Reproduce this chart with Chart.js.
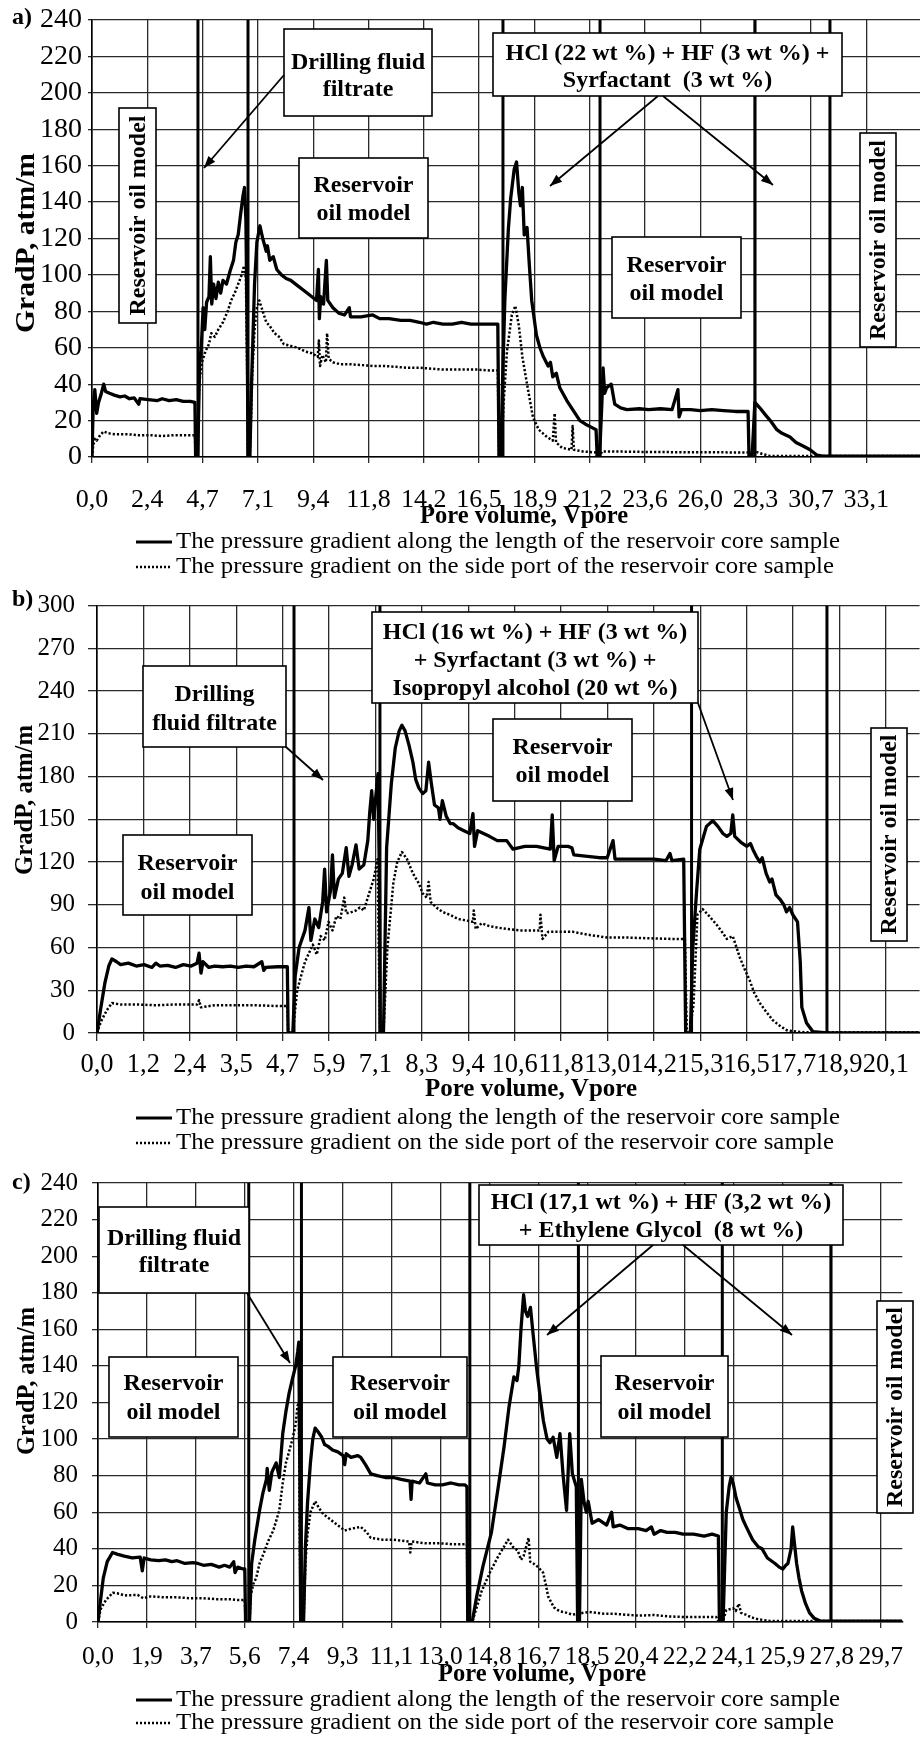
<!DOCTYPE html>
<html><head><meta charset="utf-8">
<script src="https://cdn.jsdelivr.net/npm/chart.js@4.4.1/dist/chart.umd.min.js"></script>
<style>
html,body{margin:0;padding:0;background:#fff;}
body{width:920px;height:1738px;position:relative;overflow:hidden;}
.panel{position:absolute;left:0;width:920px;}
canvas{display:block;}
</style></head><body>
<div class="panel" style="top:0;height:580px"><canvas id="cA" width="920" height="580"></canvas></div>
<div class="panel" style="top:580px;height:575px"><canvas id="cB" width="920" height="575"></canvas></div>
<div class="panel" style="top:1155px;height:583px"><canvas id="cC" width="920" height="583"></canvas></div>
<script>
// ---------------- DATA ----------------
const aLabels = ['0,0','2,4','4,7','7,1','9,4','11,8','14,2','16,5','18,9','21,2','23,6','26,0','28,3','30,7','33,1'];
const aYTicks = [0,20,40,60,80,100,120,140,160,180,200,220,240];
const aVlines = [4.53, 6.67, 17.57, 21.72, 28.34, 31.55];
const aSolid = [[0,0],[0.05,28],[0.12,37],[0.2,24],[0.28,30],[0.38,34],[0.5,40],[0.58,36],[0.75,35],[0.95,34],[1.2,33],[1.4,33.5],[1.6,32],[1.8,32.5],[2.0,29],[2.05,32],[2.4,31.5],[2.8,31],[3.0,32],[3.3,31],[3.6,31.5],[3.9,30.5],[4.2,30.5],[4.4,30],[4.43,0],[4.52,0],[4.6,50],[4.68,62],[4.75,82],[4.82,70],[4.9,85],[5.0,88],[5.06,110],[5.12,84],[5.2,95],[5.3,87],[5.4,96],[5.5,90],[5.6,97],[5.75,95],[5.9,102],[6.05,108],[6.15,118],[6.25,122],[6.35,133],[6.45,143],[6.52,148],[6.58,130],[6.64,60],[6.67,0],[6.75,0],[6.82,40],[6.95,95],[7.05,118],[7.18,127],[7.3,120],[7.45,113],[7.5,116],[7.6,108],[7.75,110],[7.9,103],[8.1,100],[8.3,98],[8.5,97],[8.8,94],[9.1,91],[9.4,88],[9.6,86],[9.68,103],[9.72,76],[9.78,88],[9.9,84],[10.02,108],[10.08,86],[10.3,82],[10.55,79],[10.8,78],[11.0,82],[11.05,77],[11.5,77],[12.0,78],[12.3,76],[12.7,76],[13.2,75],[13.6,75],[14.0,74],[14.3,73],[14.6,74],[15.0,73],[15.4,73],[15.8,74],[16.2,73],[16.6,73],[17.0,73],[17.35,73],[17.4,0],[17.5,0],[17.55,40],[17.65,86],[17.8,125],[17.9,142],[18.05,158],[18.15,162],[18.25,145],[18.32,138],[18.4,148],[18.48,122],[18.6,126],[18.7,105],[18.8,86],[19.0,67],[19.15,60],[19.3,55],[19.5,50],[19.6,52],[19.7,44],[19.85,46],[20.0,38],[20.3,31],[20.6,25],[20.86,20],[21.1,18],[21.4,16],[21.55,15],[21.6,0],[21.7,0],[21.8,30],[21.85,49],[21.92,35],[22.0,38],[22.2,40],[22.35,29],[22.6,27],[22.87,26],[23.4,26.5],[23.8,26],[24.3,26.5],[24.8,26],[25.05,37],[25.1,22],[25.2,26],[25.6,26],[26.0,25.5],[26.5,26],[27.0,25.5],[27.5,25],[28.05,25],[28.09,0],[28.22,0],[28.34,30],[28.55,27],[28.8,23],[29.0,20],[29.28,15],[29.5,13],[29.84,11],[30.1,8],[30.4,6],[30.7,4],[31.0,1],[31.25,0.5],[35.4,0.5]];
const aSide = [[0,0],[0.05,6],[0.12,10],[0.2,9],[0.35,12],[0.5,14],[0.7,13],[1.0,12.5],[1.5,12.5],[2.0,12],[2.5,12],[3.0,11.5],[3.5,12],[4.0,12],[4.4,12],[4.43,0],[4.52,0],[4.58,40],[4.7,52],[4.85,58],[5.0,62],[5.1,68],[5.25,66],[5.4,70],[5.6,74],[5.8,80],[5.95,86],[6.1,90],[6.25,95],[6.4,100],[6.5,105],[6.58,98],[6.64,40],[6.67,0],[6.75,0],[6.85,45],[6.95,70],[7.05,82],[7.15,86],[7.3,80],[7.45,74],[7.6,72],[7.8,68],[8.0,66],[8.2,62],[8.5,61],[8.8,60],[9.1,58],[9.4,57],[9.65,55],[9.7,64],[9.75,50],[9.85,56],[10.0,52],[10.05,68],[10.12,54],[10.3,52],[10.6,51],[11.0,51],[11.5,50.5],[12.0,50],[12.5,50],[13.0,49.5],[13.5,49],[14.0,49],[14.5,48.5],[15.0,48],[15.5,48],[16.0,48],[16.5,48],[17.0,47.5],[17.35,47.5],[17.4,0],[17.5,0],[17.6,30],[17.74,58],[17.95,78],[18.1,83],[18.25,72],[18.4,55],[18.6,40],[18.85,22],[19.1,15],[19.45,11],[19.7,9],[19.78,24],[19.84,8],[20.1,5],[20.5,4],[20.55,17],[20.6,4],[21.0,3],[21.55,2.5],[21.6,0],[21.7,0],[21.8,3],[22.5,3],[23.5,2.8],[24.5,2.7],[25.5,2.6],[26.5,2.6],[27.5,2.5],[28.05,2.5],[28.09,0],[28.22,0],[28.35,3],[28.7,1.5],[29.0,0.5],[35.4,0.5]];

const bLabels = ['0,0','1,2','2,4','3,5','4,7','5,9','7,1','8,3','9,4','10,6','11,8','13,0','14,2','15,3','16,5','17,7','18,9','20,1'];
const bYTicks = [0,30,60,90,120,150,180,210,240,270,300];
const bVlines = [5.02, 7.21, 15.15, 18.6];
const bSolid = [[0,0],[0.1,18],[0.2,35],[0.3,47],[0.38,52],[0.5,50],[0.6,48],[0.8,49],[1.0,47],[1.2,48],[1.4,46],[1.5,49],[1.6,47],[1.8,47.5],[2.0,46],[2.2,48],[2.4,47],[2.55,49],[2.6,56],[2.65,42],[2.7,50],[2.85,46],[3.0,47],[3.2,46.5],[3.4,47],[3.6,46],[3.8,47],[4.0,46.5],[4.2,50],[4.25,44],[4.3,46],[4.6,46.5],[4.85,46.5],[4.87,0],[4.99,0],[5.05,40],[5.15,60],[5.3,72],[5.4,88],[5.45,65],[5.55,80],[5.65,74],[5.75,92],[5.8,115],[5.85,85],[5.95,100],[6.0,125],[6.05,95],[6.15,108],[6.25,112],[6.35,130],[6.42,110],[6.5,118],[6.6,132],[6.68,115],[6.8,118],[6.9,135],[6.95,155],[7.0,170],[7.05,150],[7.1,165],[7.16,182],[7.2,100],[7.22,0],[7.3,0],[7.38,130],[7.5,175],[7.6,200],[7.7,212],[7.77,216],[7.85,212],[7.95,202],[8.05,190],[8.12,178],[8.2,172],[8.3,168],[8.38,170],[8.45,190],[8.52,175],[8.6,160],[8.7,158],[8.74,150],[8.8,163],[8.9,152],[9.0,147],[9.07,147],[9.2,144],[9.35,142],[9.5,140],[9.58,154],[9.62,131],[9.7,142],[9.85,140],[10.0,138],[10.2,135],[10.44,135],[10.6,129],[10.9,131],[11.2,131],[11.55,129],[11.6,153],[11.65,121],[11.75,131],[12.0,131],[12.1,130],[12.15,125],[12.5,124],[12.8,123],[13.0,123],[13.15,135],[13.2,122],[13.5,122],[13.83,122],[14.2,122],[14.5,121],[14.6,126],[14.65,121],[14.95,122],[15.0,0],[15.12,0],[15.18,59],[15.28,100],[15.36,129],[15.53,145],[15.69,149],[15.82,145],[15.95,140],[16.05,138],[16.15,140],[16.2,153],[16.25,138],[16.4,134],[16.56,131],[16.65,133],[16.71,129],[16.8,124],[16.89,120],[16.95,123],[17.05,112],[17.14,106],[17.2,108],[17.3,97],[17.4,94],[17.5,90],[17.57,85],[17.65,88],[17.73,83],[17.85,78],[17.92,50],[17.96,18],[18.08,7],[18.24,1],[18.6,0],[21.0,0]];
const bSide = [[0,0],[0.1,8],[0.25,16],[0.38,21],[0.6,20],[1.0,20],[1.5,19.5],[2.0,20],[2.55,20],[2.6,23],[2.65,18],[3.0,19.5],[3.5,19.5],[4.0,19.5],[4.5,19],[4.85,19],[4.87,0],[4.99,0],[5.1,30],[5.3,50],[5.5,62],[5.6,55],[5.7,68],[5.8,65],[5.9,78],[6.0,72],[6.1,82],[6.2,80],[6.3,95],[6.35,84],[6.5,85],[6.6,86],[6.7,88],[6.8,86],[6.9,95],[7.05,108],[7.15,122],[7.21,0],[7.3,0],[7.4,60],[7.55,105],[7.65,120],[7.77,127],[7.9,122],[8.05,112],[8.2,105],[8.3,98],[8.4,95],[8.45,106],[8.5,92],[8.65,88],[8.8,85],[8.99,83],[9.2,80],[9.4,79],[9.58,78],[9.6,86],[9.65,73],[9.8,77],[10.0,75],[10.2,74],[10.44,73],[10.8,72],[11.1,72],[11.28,72],[11.3,83],[11.35,66],[11.5,71],[11.8,71],[12.12,71],[12.5,69],[13.0,67],[13.5,67],[14.0,66.5],[14.67,66],[14.98,66],[15.03,0],[15.1,0],[15.2,20],[15.3,83],[15.43,87],[15.6,82],[15.79,76],[15.95,70],[16.05,66],[16.2,68],[16.38,53],[16.5,45],[16.63,37],[16.75,28],[16.89,21],[17.05,15],[17.22,9],[17.4,5],[17.57,2],[17.8,1],[18.08,0.5],[21.0,0.5]];

const cLabels = ['0,0','1,9','3,7','5,6','7,4','9,3','11,1','13,0','14,8','16,7','18,5','20,4','22,2','24,1','25,9','27,8','29,7'];
const cYTicks = [0,20,40,60,80,100,120,140,160,180,200,220,240];
const cVlines = [5.72, 7.72, 14.11, 18.23, 23.69, 27.81];
const cSolid = [[0,0],[0.08,10],[0.2,24],[0.35,33],[0.55,38],[0.75,37],[1.0,36],[1.3,35],[1.6,35.5],[1.68,28],[1.75,35],[2.0,34],[2.3,33.5],[2.56,34],[2.8,33],[3.0,33.5],[3.3,32],[3.6,32.5],[3.79,32],[4.0,31],[4.3,31.5],[4.6,30],[4.8,31],[5.0,30],[5.15,33],[5.2,27],[5.3,30],[5.5,29],[5.57,29],[5.6,0],[5.75,0],[5.83,32],[5.95,45],[6.13,61],[6.25,70],[6.39,78],[6.42,84],[6.5,72],[6.6,82],[6.76,87],[6.88,79],[6.95,92],[7.01,103],[7.13,115],[7.25,125],[7.38,133],[7.5,140],[7.58,148],[7.62,153],[7.66,80],[7.69,0],[7.8,0],[7.87,41],[7.95,65],[8.06,87],[8.15,100],[8.24,106],[8.35,104],[8.49,101],[8.6,97],[8.73,96],[8.9,94],[9.1,93],[9.3,91],[9.36,86],[9.42,92],[9.6,90],[9.85,91],[9.97,90],[10.15,86],[10.35,81],[10.6,80],[10.9,79],[11.21,79],[11.5,78],[11.84,77],[11.88,67],[11.92,77],[12.2,76],[12.44,81],[12.5,76],[12.8,75],[13.07,75],[13.4,76],[13.7,75],[13.92,75],[14.0,74],[14.03,0],[14.2,0],[14.37,14],[14.6,30],[14.93,49],[15.2,75],[15.41,96],[15.6,118],[15.78,134],[15.9,132],[15.97,140],[16.05,160],[16.15,179],[16.22,170],[16.3,167],[16.41,172],[16.52,156],[16.65,138],[16.78,123],[16.9,110],[17.04,100],[17.15,98],[17.27,101],[17.41,90],[17.53,103],[17.65,80],[17.78,61],[17.9,103],[18.0,81],[18.15,74],[18.2,0],[18.27,0],[18.34,78],[18.45,65],[18.53,60],[18.6,66],[18.75,54],[19.0,56],[19.3,53],[19.49,60],[19.55,52],[19.8,53],[20.12,51],[20.5,51],[20.8,50],[21.0,52],[21.1,48],[21.35,50],[21.6,49],[21.9,49],[22.2,48],[22.6,48],[23.0,47],[23.3,48],[23.54,47],[23.58,0],[23.72,0],[23.84,60],[23.95,74],[24.02,79],[24.1,76],[24.21,68],[24.3,64],[24.47,56],[24.6,52],[24.84,45],[25.06,41],[25.2,40],[25.4,35],[25.69,32],[25.85,30],[25.99,29],[26.1,31],[26.18,32],[26.3,40],[26.36,52],[26.45,40],[26.51,32],[26.6,24],[26.7,17],[26.85,10],[27.0,5],[27.18,2],[27.4,0.5],[30.5,0.5]];
const cSide = [[0,0],[0.1,7],[0.3,12],[0.56,16],[0.8,15.5],[1.0,14.5],[1.5,14.8],[1.72,13],[2.0,14],[2.5,13.5],[3.0,13.5],[3.5,13],[4.0,13],[4.5,12.5],[5.0,12.5],[5.3,12],[5.57,12],[5.6,0],[5.75,0],[5.8,15],[5.9,21],[6.0,24],[6.13,32],[6.3,38],[6.45,44],[6.65,50],[6.88,61],[7.0,75],[7.13,87],[7.25,93],[7.38,100],[7.5,108],[7.57,118],[7.62,120],[7.66,40],[7.69,0],[7.8,0],[7.87,32],[7.95,48],[8.06,60],[8.24,66],[8.4,62],[8.55,59],[8.73,57],[9.0,54],[9.36,50],[9.6,51],[9.97,52],[10.2,49],[10.35,46],[10.8,45],[11.21,45],[11.8,44],[11.85,38],[11.9,44],[12.44,43],[13.0,43],[13.5,42.5],[14.0,42.5],[14.03,0],[14.2,0],[14.56,17],[14.9,28],[15.19,36],[15.4,41],[15.56,45],[15.75,41],[15.93,39],[16.05,34],[16.15,36],[16.34,46],[16.4,33],[16.52,32],[16.7,30],[16.89,27],[17.0,20],[17.08,14],[17.3,8],[17.5,6],[17.8,5],[18.0,4],[18.2,4.5],[18.64,5.5],[19.2,4.5],[19.6,4.5],[20.0,4],[20.5,3.5],[21.1,3.8],[21.7,3],[22.35,2.7],[23.0,2.8],[23.46,2.7],[23.55,0],[23.7,0],[23.84,6.5],[24.1,7.5],[24.2,6],[24.32,10],[24.4,5],[24.58,4],[24.8,2.5],[25.06,1.5],[25.5,0.5],[30.5,0.5]];

const legendTexts = ['The pressure gradient along the length of the reservoir core sample','The pressure gradient on the side port of the reservoir core sample'];

// ---------------- DRAWING ----------------
const SERIF = '"Liberation Serif","Times New Roman",Times,serif';

function fitText(ctx, text, x, y, font, width, align, rot) {
  ctx.save();
  ctx.font = font;
  const w = ctx.measureText(text).width;
  const sx = width ? width / w : 1;
  ctx.translate(x, y);
  if (rot) ctx.rotate(rot);
  ctx.scale(sx, 1);
  ctx.textAlign = align || 'left';
  ctx.textBaseline = 'middle';
  ctx.fillText(text, 0, 0);
  ctx.restore();
}
function arrow(ctx, x1, y1, x2, y2) {
  ctx.beginPath(); ctx.moveTo(x1, y1); ctx.lineTo(x2, y2);
  ctx.lineWidth = 1.8; ctx.setLineDash([]); ctx.stroke();
  const a = Math.atan2(y2 - y1, x2 - x1), L = 12, W = 4.5;
  ctx.beginPath();
  ctx.moveTo(x2, y2);
  ctx.lineTo(x2 - L*Math.cos(a) + W*Math.sin(a), y2 - L*Math.sin(a) - W*Math.cos(a));
  ctx.lineTo(x2 - L*Math.cos(a) - W*Math.sin(a), y2 - L*Math.sin(a) + W*Math.cos(a));
  ctx.closePath(); ctx.fill();
}

const decor = {
  id: 'decor',
  afterDraw(chart, args, o) {
    const ctx = chart.ctx, oy = o.top;
    ctx.save();
    ctx.fillStyle = '#000'; ctx.strokeStyle = '#000';
    o.boxes.forEach(b => {
      ctx.fillStyle = '#fff';
      ctx.fillRect(b.x, b.y - oy, b.w, b.h);
      ctx.lineWidth = 1.6; ctx.strokeStyle = '#000'; ctx.setLineDash([]);
      ctx.strokeRect(b.x, b.y - oy, b.w, b.h);
      ctx.fillStyle = '#000';
      ctx.font = 'bold 24px ' + SERIF;
      ctx.textAlign = 'center'; ctx.textBaseline = 'middle';
      if (b.vertical) {
        ctx.save();
        ctx.translate(b.x + b.w/2 + 1, b.y - oy + b.h/2);
        ctx.rotate(-Math.PI/2);
        ctx.fillText(b.text, 0, 0);
        ctx.restore();
      } else {
        b.lines.forEach((t, i) => ctx.fillText(t, b.x + b.w/2, b.ly[i] - oy + 1));
      }
    });
    ctx.fillStyle = '#000'; ctx.strokeStyle = '#000';
    o.arrows.forEach(a => arrow(ctx, a[0], a[1] - oy, a[2], a[3] - oy));
    ctx.font = 'bold 24px ' + SERIF; ctx.textAlign = 'left'; ctx.textBaseline = 'middle';
    ctx.fillText(o.letter, 12, o.letterY - oy);
    fitText(ctx, 'GradP, atm/m', o.yTitle[0], o.yTitle[1] - oy, 'bold ' + o.yTitle[3] + 'px ' + SERIF, o.yTitle[2], 'center', -Math.PI/2);
    fitText(ctx, 'Pore volume, Vpore', o.xTitle[0], o.xTitle[1] - oy, 'bold 25px ' + SERIF, o.xTitle[2], 'center');
    const [l1, l2] = o.legendY;
    ctx.lineWidth = 3.2; ctx.setLineDash([]);
    ctx.beginPath(); ctx.moveTo(136, l1 - oy); ctx.lineTo(172, l1 - oy); ctx.stroke();
    ctx.lineWidth = 2.4; ctx.setLineDash([2, 2]);
    ctx.beginPath(); ctx.moveTo(136, l2 - oy); ctx.lineTo(172, l2 - oy); ctx.stroke();
    ctx.setLineDash([]);
    fitText(ctx, legendTexts[0], 176, l1 - oy, '24px ' + SERIF, 664, 'left');
    fitText(ctx, legendTexts[1], 176, l2 - oy, '24px ' + SERIF, 658, 'left');
    ctx.restore();
  }
};

function makeChart(id, c) {
  const step = parseFloat(c.labels[c.labels.length - 1].replace(',', '.')) / (c.labels.length - 1);
  const ds = [];
  c.vlines.forEach(v => ds.push({
    data: [{x: v, y: 0}, {x: v, y: c.yTicks[c.yTicks.length - 1]}],
    borderColor: '#000', borderWidth: 3, pointRadius: 0
  }));
  ds.push({
    data: c.side.map(p => ({x: p[0], y: p[1]})),
    borderColor: '#000', borderWidth: 2.5, borderDash: [2.2, 2], pointRadius: 0,
    borderJoinStyle: 'round'
  });
  ds.push({
    data: c.solid.map(p => ({x: p[0], y: p[1]})),
    borderColor: '#000', borderWidth: 3.3, pointRadius: 0, borderJoinStyle: 'round', borderCapStyle: 'round'
  });
  return new Chart(document.getElementById(id), {
    type: 'line',
    data: {datasets: ds},
    plugins: [decor],
    options: {
      responsive: false, animation: false, events: [],
      parsing: false,
      layout: {padding: {top: c.padTop, right: 0, bottom: 0, left: 0}},
      elements: {line: {tension: 0}},
      plugins: {legend: {display: false}, tooltip: {enabled: false}, decor: c.decor},
      scales: {
        x: {
          type: 'linear', min: 0, max: c.xMax,
          afterBuildTicks: s => { s.ticks = c.labels.map((l, i) => ({value: i * step})); },
          afterFit: s => { s.height = c.xH; },
          ticks: {autoSkip: false, maxRotation: 0, minRotation: 0, padding: c.xPad, color: '#000',
                  font: {family: SERIF, size: c.xFont, lineHeight: 1},
                  callback: (v, i) => c.labels[i]},
          grid: {color: '#2a2a2a', lineWidth: 1.3, tickLength: c.xTL, drawTicks: true},
          border: {color: '#000', width: 1.6}
        },
        y: {
          min: 0, max: c.yTicks[c.yTicks.length - 1],
          afterBuildTicks: s => { s.ticks = c.yTicks.map(v => ({value: v})); },
          afterFit: s => { s.width = c.left; },
          ticks: {padding: c.yPad, color: '#000', font: {family: SERIF, size: c.yFont, lineHeight: 1}},
          grid: {color: '#2a2a2a', lineWidth: 1.3, tickLength: c.yTL, drawTicks: true},
          border: {color: '#000', width: 1.6}
        }
      }
    }
  });
}

makeChart('cA', {
  labels: aLabels, yTicks: aYTicks, vlines: aVlines, solid: aSolid, side: aSide,
  xMax: 35.4, padTop: 17, left: 92, xH: 123, xPad: 24, xTL: 6, yPad: 6, yTL: 4, yFont: 28, xFont: 26,
  decor: {
    top: 0, letter: 'a)', letterY: 18,
    yTitle: [27, 243, 180, 28], xTitle: [524, 517, 208], legendY: [542, 567],
    boxes: [
      {x: 284, y: 29, w: 148, h: 87, lines: ['Drilling fluid', 'filtrate'], ly: [62, 89]},
      {x: 119, y: 108, w: 37, h: 215, vertical: true, text: 'Reservoir oil model'},
      {x: 299, y: 158, w: 129, h: 80, lines: ['Reservoir', 'oil model'], ly: [185, 213]},
      {x: 493, y: 33, w: 349, h: 63, lines: ['HCl (22 wt %) + HF (3 wt %) +', 'Syrfactant  (3 wt %)'], ly: [53, 80]},
      {x: 612, y: 237, w: 129, h: 81, lines: ['Reservoir', 'oil model'], ly: [265, 293]},
      {x: 860, y: 133, w: 36, h: 214, vertical: true, text: 'Reservoir oil model'}
    ],
    arrows: [[284, 75, 204, 168], [658, 96, 550, 186], [663, 96, 773, 185]]
  }
});

makeChart('cB', {
  labels: bLabels, yTicks: bYTicks, vlines: bVlines, solid: bSolid, side: bSide,
  xMax: 20.96, padTop: 19, left: 97, xH: 122, xPad: 11, xTL: 8, yPad: 13, yTL: 9, yFont: 25, xFont: 26.5,
  decor: {
    top: 580, letter: 'b)', letterY: 600,
    yTitle: [26, 800, 150, 25], xTitle: [531, 1090, 212], legendY: [1118, 1143],
    boxes: [
      {x: 143, y: 666, w: 143, h: 81, lines: ['Drilling', 'fluid filtrate'], ly: [694, 723]},
      {x: 123, y: 835, w: 129, h: 80, lines: ['Reservoir', 'oil model'], ly: [863, 892]},
      {x: 372, y: 612, w: 326, h: 91, lines: ['HCl (16 wt %) + HF (3 wt %)', '+ Syrfactant (3 wt %) +', 'Isopropyl alcohol (20 wt %)'], ly: [632, 660, 688]},
      {x: 493, y: 719, w: 139, h: 82, lines: ['Reservoir', 'oil model'], ly: [747, 775]},
      {x: 871, y: 728, w: 36, h: 213, vertical: true, text: 'Reservoir oil model'}
    ],
    arrows: [[286, 747, 323, 780], [698, 703, 733, 800]]
  }
});

makeChart('cC', {
  labels: cLabels, yTicks: cYTicks, vlines: cVlines, solid: cSolid, side: cSide,
  xMax: 30.52, padTop: 28, left: 98, xH: 116, xPad: 17, xTL: 6, yPad: 14, yTL: 6, yFont: 25, xFont: 25.5,
  decor: {
    top: 1155, letter: 'c)', letterY: 1183,
    yTitle: [28, 1381, 148, 25], xTitle: [542, 1675, 208], legendY: [1700, 1723],
    boxes: [
      {x: 99, y: 1207, w: 150, h: 86, lines: ['Drilling fluid', 'filtrate'], ly: [1238, 1265]},
      {x: 109, y: 1357, w: 129, h: 80, lines: ['Reservoir', 'oil model'], ly: [1383, 1412]},
      {x: 333, y: 1357, w: 134, h: 80, lines: ['Reservoir', 'oil model'], ly: [1383, 1412]},
      {x: 479, y: 1185, w: 364, h: 60, lines: ['HCl (17,1 wt %) + HF (3,2 wt %)', '+ Ethylene Glycol  (8 wt %)'], ly: [1202, 1230]},
      {x: 601, y: 1356, w: 127, h: 81, lines: ['Reservoir', 'oil model'], ly: [1383, 1412]},
      {x: 877, y: 1301, w: 36, h: 212, vertical: true, text: 'Reservoir oil model'}
    ],
    arrows: [[247, 1293, 290, 1363], [653, 1245, 547, 1335], [683, 1245, 792, 1335]]
  }
});
</script>
</body></html>
